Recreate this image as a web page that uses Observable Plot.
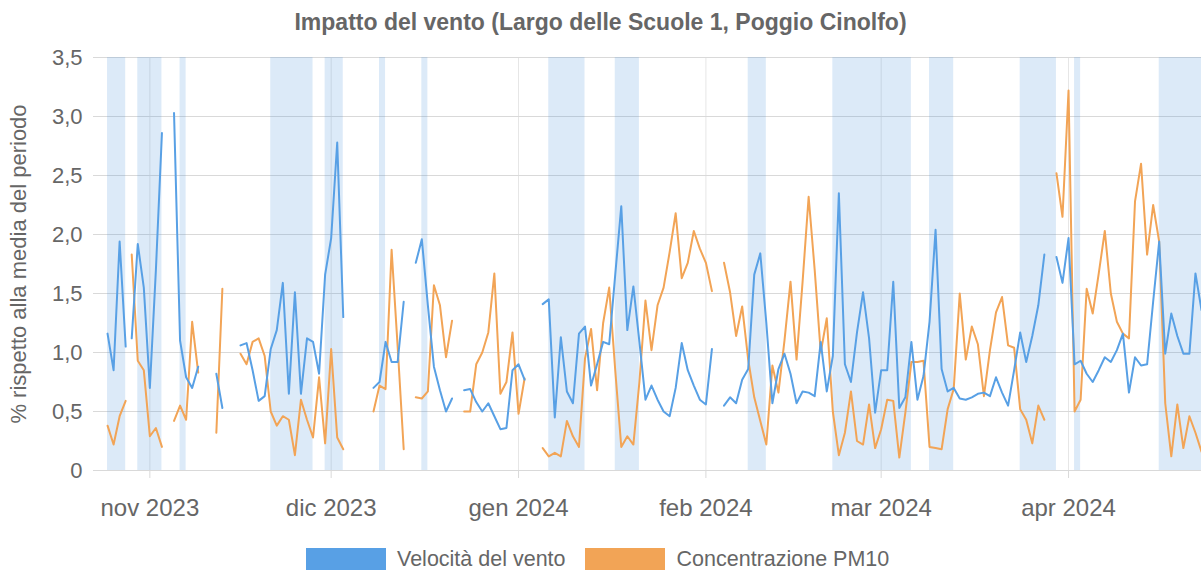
<!DOCTYPE html>
<html>
<head>
<meta charset="utf-8">
<script src="https://cdn.jsdelivr.net/npm/d3@7"></script>
<script src="https://cdn.jsdelivr.net/npm/@observablehq/plot@0.6"></script>
<style>
  html, body { margin: 0; padding: 0; background: #fff; }
  body { width: 1201px; height: 571px; overflow: hidden; font-family: "Liberation Sans", Arial, Helvetica, sans-serif; }
  #title { height: 45px; line-height: 45px; text-align: center; font-weight: bold; font-size: 23px; color: #666; }
  #chart svg { display: block; }
  #legend { height: 41px; box-sizing: border-box; padding-top: 17px; display: flex; align-items: center; padding-left: 306px; }
  #legend .box { width: 80px; height: 22px; }
  #legend .lab { font-size: 21.5px; color: #666; line-height: 22px; }
</style>
</head>
<body>
<div id="title">Impatto del vento (Largo delle Scuole 1, Poggio Cinolfo)</div>
<div id="chart"></div>
<div id="legend"></div>
<script>
// ---- data (one value per day, null = missing) ----
const seriesNames = ["Velocità del vento", "Concentrazione PM10"];
const seriesColors = ["#58a0e5", "#f2a456"];
const firstDay = "2023-10-25";

const windOct = [1.16,0.85,1.94,1.05,1.12,1.92,1.55];
const pmOct   = [0.38,0.22,0.46,0.59,1.83,0.93,0.85];
const windNov = [0.70,1.70,2.86,null,3.03,1.10,0.79,0.70,0.88,null,null,0.82,0.53,null,null,1.06,1.08,0.85,0.59,0.63,1.03,1.19,1.59,0.65,1.51,0.65,1.12,1.09,0.82,1.66];
const pmNov   = [0.29,0.36,0.20,null,0.42,0.55,0.43,1.26,0.83,null,null,0.32,1.54,null,null,0.99,0.90,1.09,1.12,0.97,0.50,0.38,0.46,0.43,0.13,0.60,0.43,0.28,0.79,0.23];
const windDec = [1.97,2.78,1.30,null,null,null,null,0.70,0.75,1.09,0.92,0.92,1.43,null,1.76,1.96,1.40,0.88,0.68,0.50,0.61,null,0.68,0.69,0.58,0.50,0.57,0.46,0.35,0.36,0.85];
const pmDec   = [1.03,0.28,0.18,null,null,null,null,0.50,0.72,0.69,1.87,1.05,0.18,null,0.62,0.61,0.67,1.57,1.40,0.96,1.27,null,0.50,0.50,0.90,1.00,1.17,1.67,0.65,0.75,1.17];
const windJan = [0.90,0.77,null,null,1.41,1.45,0.45,1.13,0.67,0.57,1.16,1.22,0.72,0.90,1.09,1.07,1.66,2.24,1.19,1.56,1.09,0.60,0.72,0.60,0.50,0.46,0.70,1.08,0.85,0.72,0.60];
const pmJan   = [0.48,0.78,null,null,0.19,0.12,0.15,0.12,0.42,0.29,0.20,0.95,1.20,0.68,1.25,1.55,0.85,0.20,0.29,0.22,0.75,1.44,1.02,1.40,1.55,1.85,2.18,1.63,1.76,2.03,1.88];
const windFeb = [0.56,1.03,null,0.55,0.62,0.57,0.77,0.86,1.66,1.84,1.25,0.57,0.86,0.99,0.82,0.57,0.67,0.66,0.63,1.09,0.67,0.97,2.35,0.90,0.75,1.17,1.51,1.12,0.49];
const pmFeb   = [1.76,1.52,null,1.76,1.51,1.14,1.39,0.94,0.62,0.42,0.22,0.89,0.66,1.10,1.60,0.94,1.60,2.32,1.70,1.00,1.29,0.50,0.13,0.32,0.67,0.25,0.22,0.56,0.19];
const windMar = [0.85,0.85,1.60,0.53,0.62,1.09,0.60,0.80,1.26,2.04,0.86,0.67,0.70,0.61,0.60,0.62,0.65,0.66,0.63,0.79,0.66,0.55,0.85,1.17,0.92,1.14,1.40,1.83,null,1.81,1.59];
const pmMar   = [0.35,0.60,0.59,0.11,0.49,0.92,0.92,0.93,0.20,0.19,0.18,0.52,0.69,1.50,0.94,1.22,1.07,0.63,1.02,1.34,1.47,1.06,1.04,0.52,0.43,0.23,0.55,0.43,null,2.52,2.15];
const windApr = [1.97,0.90,0.93,0.82,0.75,0.85,0.96,0.92,1.02,1.16,0.66,0.96,0.89,0.90,1.43,1.94,0.99,1.33,1.14,0.99,0.99,1.67,1.36];
const pmApr   = [3.22,0.50,0.60,1.54,1.33,1.67,2.03,1.50,1.26,1.16,1.12,2.28,2.60,1.83,2.25,1.94,0.57,0.12,0.56,0.19,0.46,0.32,0.16];

// line is interrupted here (change of daylight-saving time: 25h gap)
const lineBreaks = ["2023-10-29"];

// shaded periods [start, end)
const bandStarts = ["2023-10-25","2023-10-30","2023-11-06","2023-11-21","2023-11-30","2023-12-09","2023-12-16","2024-01-06","2024-01-17","2024-02-08","2024-02-22","2024-03-09","2024-03-24","2024-04-02","2024-04-16"];
const bandEnds   = ["2023-10-28","2023-11-03","2023-11-07","2023-11-28","2023-12-03","2023-12-10","2023-12-17","2024-01-12","2024-01-21","2024-02-11","2024-03-06","2024-03-13","2024-03-30","2024-04-03","2024-04-23"];

const xDomain = ["2023-10-24", "2024-04-23"];
const xTickDates  = ["2023-11-01","2023-12-01","2024-01-01","2024-02-01","2024-03-01","2024-04-01"];
const xTickLabels = ["nov 2023","dic 2023","gen 2024","feb 2024","mar 2024","apr 2024"];
const yTicks = [0, 0.5, 1, 1.5, 2, 2.5, 3, 3.5];
const yLabel = "% rispetto alla media del periodo";

// ---- build tables ----
const parse = s => new Date(s + "T00:00:00Z");
const DAY = 864e5;
const t0 = parse(firstDay).getTime();
const breakTimes = lineBreaks.map(s => parse(s).getTime());
const segOf = t => breakTimes.filter(b => t >= b).length;

function toRows(values) {
  return values.map((v, i) => {
    const t = t0 + i * DAY;
    return {date: new Date(t), value: v, seg: segOf(t)};
  });
}
const wind = toRows([].concat(windOct, windNov, windDec, windJan, windFeb, windMar, windApr));
const pm10 = toRows([].concat(pmOct, pmNov, pmDec, pmJan, pmFeb, pmMar, pmApr));
const bands = bandStarts.map((s, i) => ({start: parse(s), end: parse(bandEnds[i])}));
const ticks = xTickDates.map(parse);
const tickLabelMap = new Map(ticks.map((d, i) => [d.getTime(), xTickLabels[i]]));
const fmtY = d => d === 0 ? "0" : d.toFixed(1).replace(".", ",");

const chart = Plot.plot({
  width: 1201,
  height: 485,
  marginTop: 12,
  marginBottom: 60,
  marginLeft: 101,
  marginRight: 0,
  style: {fontFamily: "'Liberation Sans', Arial, Helvetica, sans-serif", fontSize: "22px", color: "#666", background: "#fff", overflow: "visible"},
  x: {type: "utc", domain: xDomain.map(parse)},
  y: {domain: [0, 3.5]},
  marks: [
    Plot.ruleX(ticks, {stroke: "#e6e6e6"}),
    Plot.gridY({ticks: yTicks, stroke: "#d9d9d9", strokeOpacity: 1}),
    Plot.rect(bands, {x1: "start", x2: "end", fill: "rgb(80,150,220)", fillOpacity: 0.2}),
    Plot.line(pm10, {x: "date", y: "value", z: "seg", stroke: seriesColors[1], strokeWidth: 2}),
    Plot.line(wind, {x: "date", y: "value", z: "seg", stroke: seriesColors[0], strokeWidth: 2}),
    Plot.axisY({ticks: yTicks, tickFormat: fmtY, tickSize: 8, tickPadding: 11, stroke: "#d9d9d9", fill: "#666", fontSize: 22,
      label: yLabel, labelAnchor: "center", labelOffset: 91, labelArrow: "none"}),
    Plot.axisX({ticks: ticks, tickFormat: d => tickLabelMap.get(d.getTime()), tickSize: 8, tickPadding: 20, stroke: "#d9d9d9", fill: "#666", fontSize: 24, label: null})
  ]
});
document.getElementById("chart").appendChild(chart);

// legend
const legend = document.getElementById("legend");
seriesNames.forEach((name, i) => {
  const box = document.createElement("span");
  box.className = "box";
  box.style.background = seriesColors[i];
  box.style.marginLeft = i === 0 ? "0px" : "19px";
  const lab = document.createElement("span");
  lab.className = "lab";
  lab.textContent = name;
  lab.style.marginLeft = i === 0 ? "11px" : "12px";
  legend.appendChild(box);
  legend.appendChild(lab);
});
</script>
</body>
</html>
